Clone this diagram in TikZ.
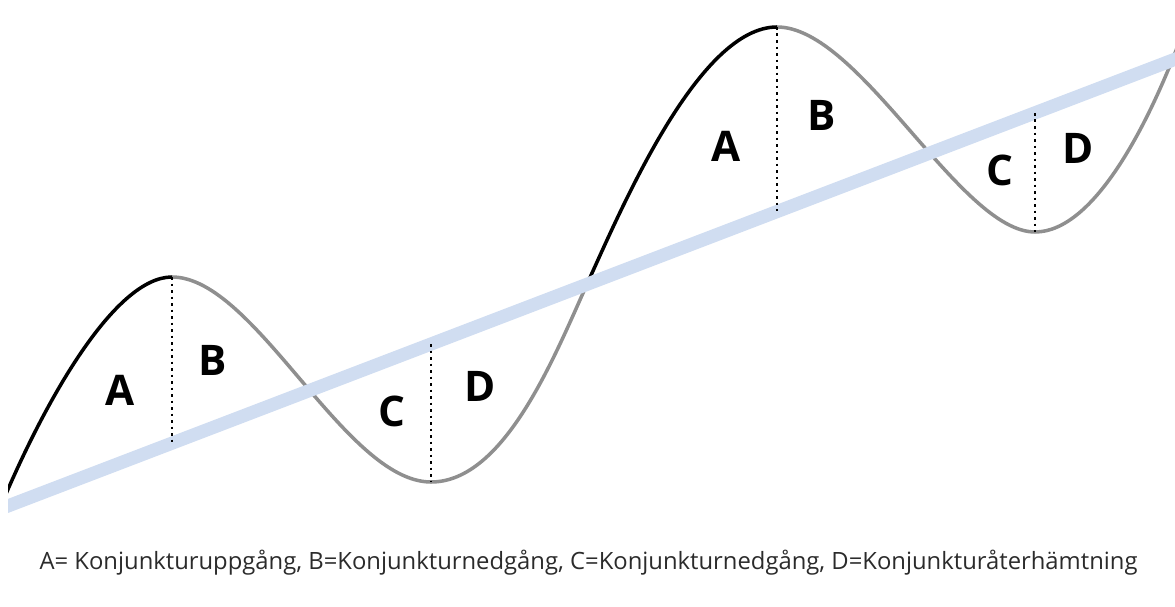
\documentclass[tikz,border=0pt]{standalone}
\usepackage{fontspec}
\setmainfont{Open Sans}
\usepackage{tikz}
\usetikzlibrary{calc}
\usepackage{xcolor}
\definecolor{trendblue}{HTML}{D0DDF1}
\definecolor{downgray}{HTML}{8F8F8F}
\definecolor{captext}{HTML}{2B2B2B}

\begin{document}
\begin{tikzpicture}[
  upswing/.style={draw=black, line width=2pt},
  downswing/.style={draw=downgray, line width=2pt},
  trend/.style={draw=trendblue, line width=7.5pt},
  divider/.style={draw=black, line width=1.6pt, dash pattern=on 1.5pt off 2.2pt},
  phase/.style={font=\fontsize{24}{28}\selectfont\bfseries, inner sep=0pt},
]
\useasboundingbox (0,0) rectangle (23.5,12.12);

% Turning points
\coordinate (st) at (0,1.96);
\coordinate (pk1) at (3.44,6.58);
\coordinate (tr1) at (8.62,2.48);
\coordinate (cr) at (11.76,6.48);
\coordinate (pk2) at (15.54,11.58);
\coordinate (tr2) at (20.70,7.48);
\coordinate (en) at (23.6,11.32);

% Trend line ends and feet of the dividers
\coordinate (tl) at (0,1.94);
\coordinate (tr) at (23.8,11.05);
\coordinate (b1) at (3.44,3.26);
\coordinate (b2) at (8.62,5.24);
\coordinate (b3) at (15.54,7.90);
\coordinate (b4) at (20.70,9.86);

\begin{scope}
\clip (0.16,0) rectangle (23.5,12.12);
% Cycle
\draw[upswing] (st) .. controls (0.9,4.12) and (2.3,6.58) .. (pk1);
\draw[downswing] (pk1) .. controls (5.1,6.58) and (6.9,2.48) .. (tr1)
  .. controls (10.1,2.48) and (11.1,5.02) .. (cr);
\draw[upswing] (cr) .. controls (12.5,8.12) and (14.0,11.58) .. (pk2);
\draw[downswing] (pk2) .. controls (17.2,11.58) and (19.2,7.48) .. (tr2)
  .. controls (21.9,7.48) and (23.0,9.72) .. (en);
% Trend
\draw[trend] (tl) -- (tr);
\end{scope}

% Dividers
\draw[divider] (pk1) -- (b1);
\draw[divider] (b2) -- (tr1);
\draw[divider] (pk2) -- (b3);
\draw[divider] (b4) -- (tr2);

% Phases
\node[phase] (a1) at (2.40,4.32) {A};
\node[phase] (bb1) at (4.26,4.92) {B};
\node[phase] (c1) at (7.84,3.90) {C};
\node[phase] (d1) at (9.60,4.40) {D};
\node[phase] (a2) at (14.52,9.20) {A};
\node[phase] (bb2) at (16.44,9.82) {B};
\node[phase] (c2) at (20.00,8.72) {C};
\node[phase] (d2) at (21.56,9.16) {D};

% Legend
\node[font=\fontsize{13.55}{16}\selectfont, text=captext] (legend) at (11.77,0.86)
  {A= Konjunkturuppgång, B=Konjunkturnedgång, C=Konjunkturnedgång, D=Konjunkturåterhämtning};

\end{tikzpicture}
\end{document}
